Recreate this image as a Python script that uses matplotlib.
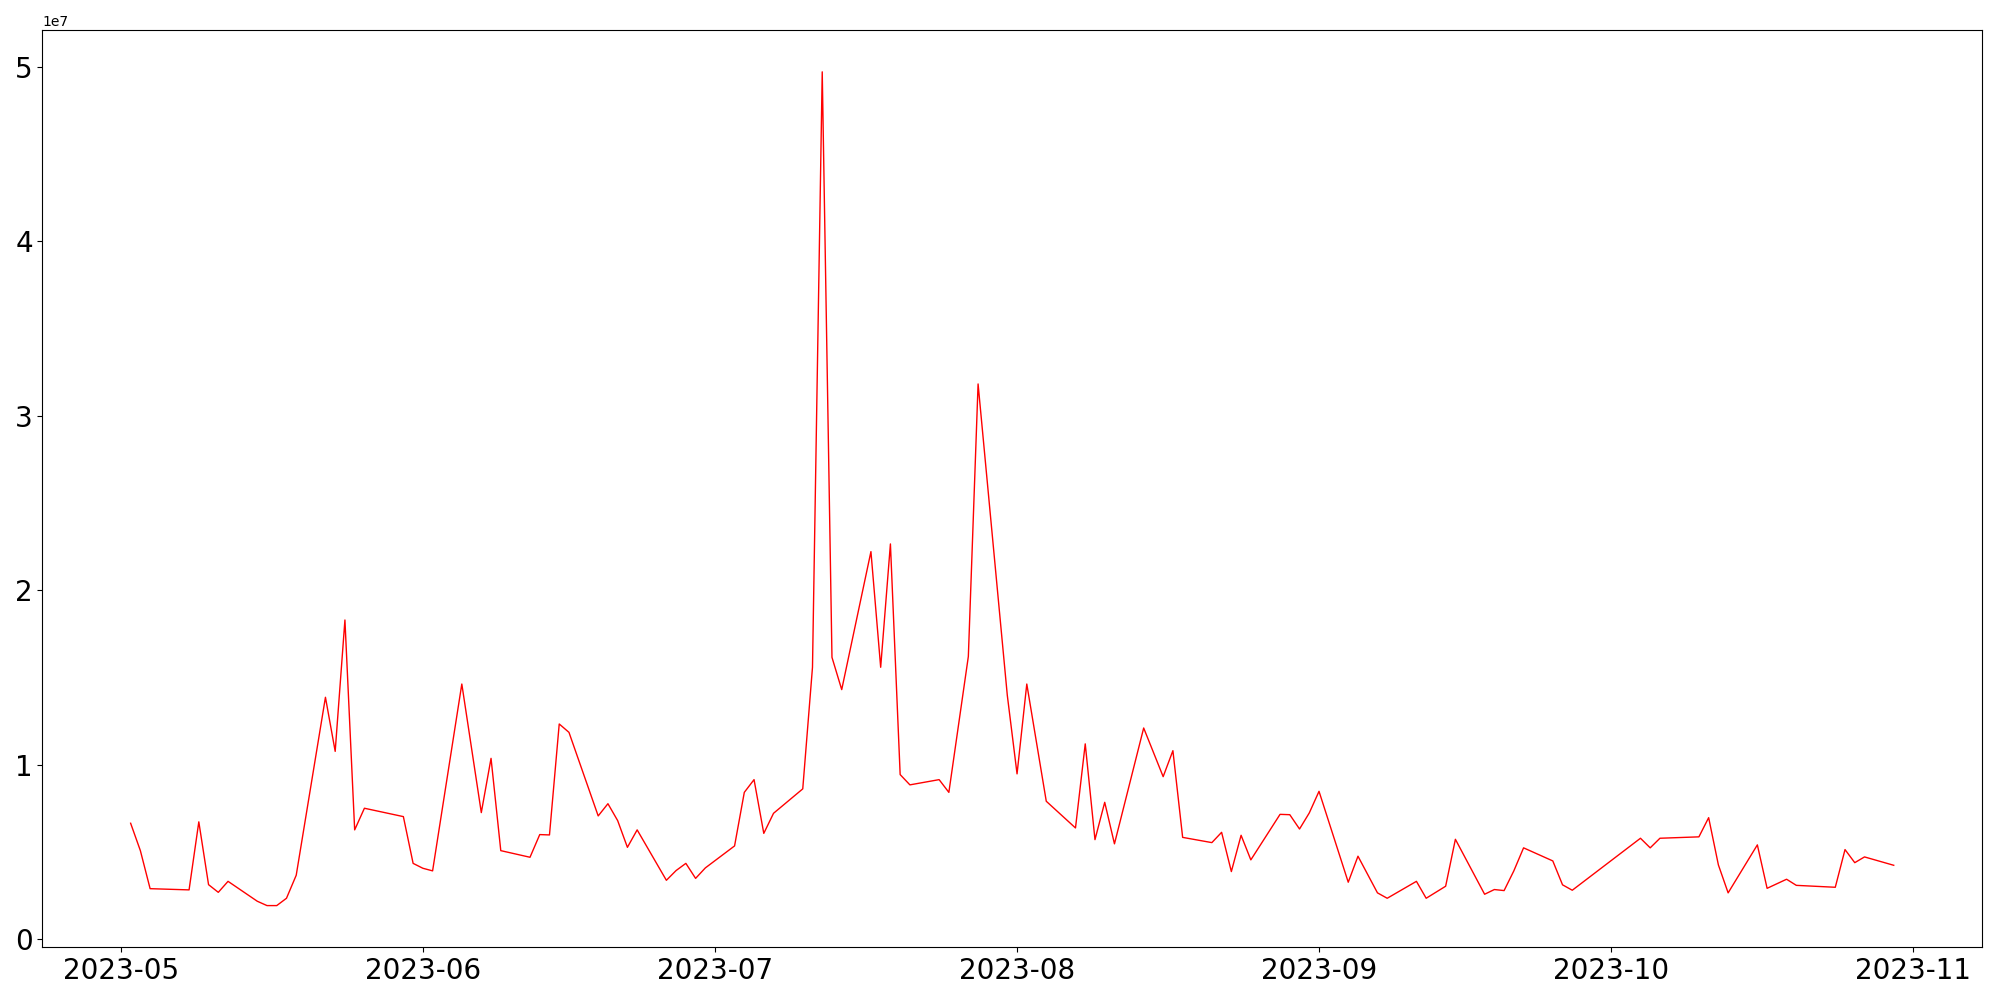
import matplotlib
matplotlib.use("Agg")
import matplotlib.pyplot as plt
import pandas as pd

dates = [
    "2023-05-02", "2023-05-03", "2023-05-04", "2023-05-08", "2023-05-09", "2023-05-10",
    "2023-05-11", "2023-05-12", "2023-05-15", "2023-05-16", "2023-05-17", "2023-05-18",
    "2023-05-19", "2023-05-22", "2023-05-23", "2023-05-24", "2023-05-25", "2023-05-26",
    "2023-05-30", "2023-05-31", "2023-06-01", "2023-06-02", "2023-06-05", "2023-06-07",
    "2023-06-08", "2023-06-09", "2023-06-12", "2023-06-13", "2023-06-14", "2023-06-15",
    "2023-06-16", "2023-06-19", "2023-06-20", "2023-06-21", "2023-06-22", "2023-06-23",
    "2023-06-26", "2023-06-27", "2023-06-28", "2023-06-29", "2023-06-30", "2023-07-03",
    "2023-07-04", "2023-07-05", "2023-07-06", "2023-07-07", "2023-07-10", "2023-07-11",
    "2023-07-12", "2023-07-13", "2023-07-14", "2023-07-17", "2023-07-18", "2023-07-19",
    "2023-07-20", "2023-07-21", "2023-07-24", "2023-07-25", "2023-07-27", "2023-07-28",
    "2023-07-31", "2023-08-01", "2023-08-02", "2023-08-04", "2023-08-07", "2023-08-08",
    "2023-08-09", "2023-08-10", "2023-08-11", "2023-08-14", "2023-08-16", "2023-08-17",
    "2023-08-18", "2023-08-21", "2023-08-22", "2023-08-23", "2023-08-24", "2023-08-25",
    "2023-08-28", "2023-08-29", "2023-08-30", "2023-08-31", "2023-09-01", "2023-09-04",
    "2023-09-05", "2023-09-07", "2023-09-08", "2023-09-11", "2023-09-12", "2023-09-14",
    "2023-09-15", "2023-09-18", "2023-09-19", "2023-09-20", "2023-09-21", "2023-09-22",
    "2023-09-25", "2023-09-26", "2023-09-27", "2023-10-04", "2023-10-05", "2023-10-06",
    "2023-10-10", "2023-10-11", "2023-10-12", "2023-10-13", "2023-10-16", "2023-10-17",
    "2023-10-19", "2023-10-20", "2023-10-24", "2023-10-25", "2023-10-26", "2023-10-27",
    "2023-10-30",
]

# values in millions
volume_m = [
    6.64, 5.07, 2.89, 2.82, 6.72, 3.12,
    2.68, 3.31, 2.17, 1.92, 1.92, 2.34,
    3.66, 13.86, 10.76, 18.29, 6.26, 7.50,
    7.02, 4.34, 4.06, 3.91, 14.62, 7.25,
    10.36, 5.07, 4.69, 5.99, 5.97, 12.33,
    11.85, 7.06, 7.76, 6.79, 5.26, 6.26,
    3.37, 3.93, 4.34, 3.48, 4.08, 5.34,
    8.41, 9.14, 6.06, 7.21, 8.61, 15.58,
    49.71, 16.15, 14.30, 22.21, 15.58, 22.65,
    9.43, 8.84, 9.14, 8.41, 16.20, 31.82,
    13.97, 9.47, 14.62, 7.90, 6.37, 11.19,
    5.70, 7.84, 5.46, 12.10, 9.31, 10.80,
    5.83, 5.53, 6.12, 3.87, 5.95, 4.54,
    7.15, 7.13, 6.31, 7.23, 8.47, 3.26,
    4.75, 2.65, 2.34, 3.31, 2.34, 3.03,
    5.72, 2.57, 2.84, 2.78, 3.91, 5.23,
    4.48, 3.11, 2.80, 5.78, 5.23, 5.78,
    5.86, 6.96, 4.25, 2.65, 5.40, 2.91,
    3.43, 3.08, 2.97, 5.13, 4.38, 4.71,
    4.23,
]

series = pd.Series([v * 1e6 for v in volume_m], index=pd.to_datetime(dates))

fig, ax = plt.subplots(figsize=(20, 10), dpi=100)
ax.plot(series.index, series.values, color="red", linewidth=1)
ax.tick_params(axis="both", labelsize=20)

plt.tight_layout()
fig.savefig("out.png", dpi=100)
plt.close(fig)
